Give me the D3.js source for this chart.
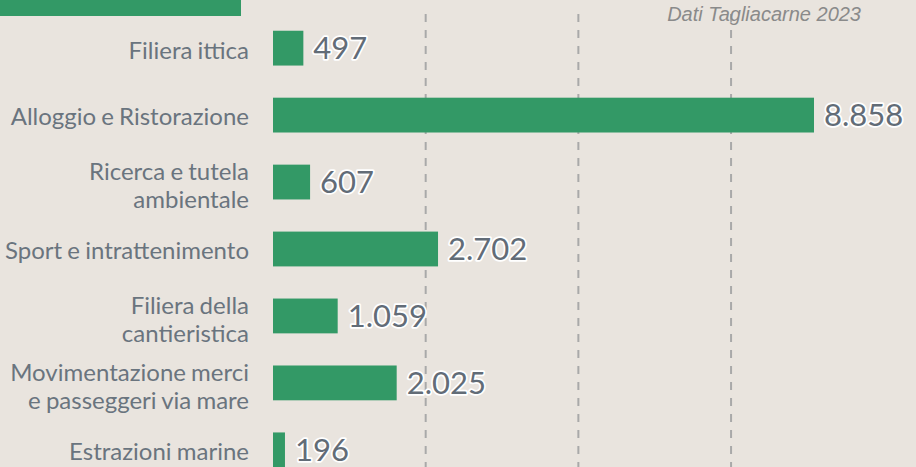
<!DOCTYPE html>
<html>
<head>
<meta charset="utf-8">
<script src="https://cdn.jsdelivr.net/npm/d3@7"></script>
<style>
  html, body { margin: 0; padding: 0; background: #e9e4de; }
  svg { display: block; }
</style>
</head>
<body>
<svg id="chart" width="916" height="467"></svg>
<script>
// settori dell'economia del mare
var categories = [
    "Filiera ittica",
    "Alloggio e Ristorazione",
    "Ricerca e tutela ambientale",
    "Sport e intrattenimento",
    "Filiera della cantieristica",
    "Movimentazione merci e passeggeri via mare",
    "Estrazioni marine"
];
// etichette spezzate su più righe
var labelLines = [
    ["Filiera ittica"],
    ["Alloggio e Ristorazione"],
    ["Ricerca e tutela", "ambientale"],
    ["Sport e intrattenimento"],
    ["Filiera della", "cantieristica"],
    ["Movimentazione merci", "e passeggeri via mare"],
    ["Estrazioni marine"]
];
var values = [497, 8858, 607, 2702, 1059, 2025, 196];
var gridTicks = [2500, 5000, 7500];
var sourceNote = "Dati Tagliacarne 2023";

var svg = d3.select("#chart");
var fmt = d3.formatLocale({ decimal: ",", thousands: ".", grouping: [3], currency: ["€", ""] }).format(",d");

var x = d3.scaleLinear()
    .domain([0, 8858])
    .range([273, 814]);

var y = d3.scaleBand()
    .domain(categories)
    .range([14, 484])
    .paddingInner(0.48)
    .paddingOuter(0.25);

// riquadro titolo (tagliato in alto)
svg.append("rect")
    .attr("x", 0)
    .attr("y", 0)
    .attr("width", 241)
    .attr("height", 16)
    .attr("fill", "#339966");

// griglia tratteggiata
svg.selectAll(".grid")
    .data(gridTicks)
    .enter()
    .append("line")
    .attr("class", "grid")
    .attr("x1", (d) => x(d))
    .attr("x2", (d) => x(d))
    .attr("y1", 14)
    .attr("y2", 467)
    .attr("stroke", "#a9a9a9")
    .attr("stroke-width", 2)
    .attr("stroke-dasharray", "8,8");

svg.append("text")
    .attr("x", 861)
    .attr("y", 21)
    .attr("text-anchor", "end")
    .style("font-family", "'Liberation Sans', Arial, sans-serif")
    .style("font-style", "italic")
    .style("font-size", "20px")
    .style("fill", "#8a8a8a")
    .text(sourceNote);

// barre
svg.selectAll(".bar")
    .data(values)
    .enter()
    .append("rect")
    .attr("class", "bar")
    .attr("x", x(0))
    .attr("y", (d, i) => y(categories[i]))
    .attr("width", (d) => x(d) - x(0))
    .attr("height", y.bandwidth())
    .attr("fill", "#339966");

// etichette categorie
var labels = svg.selectAll(".cat")
    .data(labelLines)
    .enter()
    .append("text")
    .attr("class", "cat")
    .attr("text-anchor", "end")
    .style("font-family", "Lato, sans-serif")
    .style("font-size", "24px")
    .style("word-spacing", "-1px")
    .style("fill", "#6a747e");

labels.each(function (lines, i) {
    var text = d3.select(this);
    var cy = y(categories[i]) + y.bandwidth() / 2 + 2;
    var lh = 28;
    var top = cy - (lines.length - 1) * lh / 2 + (lines.length > 1 ? 1.5 : 0);
    lines.forEach((l, j) => {
        text.append("tspan")
            .attr("x", 249)
            .attr("y", top + j * lh)
            .attr("dy", "0.35em")
            .text(l);
    });
});

// valori
svg.selectAll(".val")
    .data(values)
    .enter()
    .append("text")
    .attr("class", "val")
    .attr("x", (d) => x(d) + 10)
    .attr("y", (d, i) => y(categories[i]) + y.bandwidth() / 2)
    .attr("dy", "0.36em")
    .style("font-family", "Lato, sans-serif")
    .style("font-size", "31px")
    .style("fill", "#626c77")
    .style("stroke", "#ffffff")
    .style("stroke-width", 3.5)
    .style("stroke-linejoin", "round")
    .style("paint-order", "stroke")
    .text((d) => fmt(d));
</script>
</body>
</html>
